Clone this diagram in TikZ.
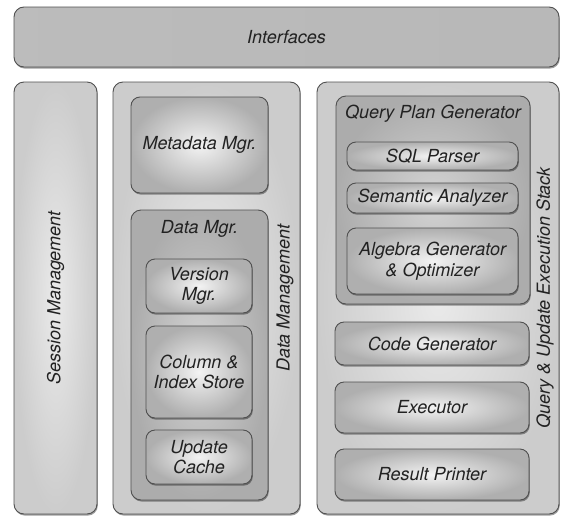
\documentclass[tikz,border=0pt]{standalone}
\usepackage{fontspec}
\setmainfont{TeX Gyre Heros}
\usetikzlibrary{shadows}
\definecolor{edge}{HTML}{505050}
\definecolor{txt}{HTML}{222222}
\definecolor{outin}{HTML}{EAEAEA}
\definecolor{outout}{HTML}{CCCCCC}
\definecolor{conin}{HTML}{D4D4D4}
\definecolor{conout}{HTML}{ACACAC}
\definecolor{leafin}{HTML}{F3F3F3}
\definecolor{leafout}{HTML}{AFAFAF}
\tikzset{
  base/.style={draw=edge, line width=0.9pt, inner sep=0pt, outer sep=0pt,
    drop shadow={shadow xshift=0.8pt, shadow yshift=-1.6pt, fill=black, opacity=0.38}},
  outerbox/.style={base, rounded corners=10pt, shading=radial, inner color=outin, outer color=outout},
  conbox/.style={base, rounded corners=10pt, shading=radial, inner color=conin, outer color=conout},
  leafbox/.style={base, rounded corners=9pt, shading=radial, inner color=leafin, outer color=leafout},
  ifbox/.style={base, rounded corners=10pt, shading=axis, left color=outout!92!black, middle color=leafin, right color=outout!90!black, shading angle=90},
  lbl/.style={text=txt, font=\fontsize{18}{20.5}\selectfont\itshape, align=center, inner sep=0pt},
}
\begin{document}
\begin{tikzpicture}[x=1pt,y=-1pt]
\useasboundingbox (0,0) rectangle (562,517);
% top
\node[ifbox, minimum width=545, minimum height=60] (if) at (286.5,37) {};
\node[lbl] (iflbl) at (if.center) {Interfaces};
% outer columns
\node[outerbox, minimum width=83, minimum height=432] (sess) at (55.5,298) {};
\node[lbl, rotate=90] (sesslbl) at (55.5,298) {Session Management};
\node[outerbox, minimum width=187, minimum height=432] (dm) at (206.5,298) {};
\node[lbl, rotate=90] (dmlbl) at (285,298) {Data Management};
\node[outerbox, minimum width=242, minimum height=432] (qs) at (438,298) {};
\node[lbl, rotate=90] (qslbl) at (545,298) {Query \& Update Execution Stack};
% data management
\node[leafbox, minimum width=137, minimum height=96] (meta) at (199.5,145) {};
\node[lbl] (metalbl) at (meta.center) {Metadata Mgr.};
\node[conbox, minimum width=137, minimum height=290] (dmgr) at (199.5,355) {};
\node[lbl] (dmgrlbl) at (199.5,229) {Data Mgr.};
\node[leafbox, minimum width=106, minimum height=54] (ver) at (199,286) {};
\node[lbl] (verlbl) at (ver.center) {Version\\Mgr.};
\node[leafbox, minimum width=106, minimum height=92] (col) at (199,372) {};
\node[lbl] (collbl) at (col.center) {Column \&\\Index Store};
\node[leafbox, minimum width=106, minimum height=54] (upd) at (199,457) {};
\node[lbl] (updlbl) at (upd.center) {Update\\Cache};
% query stack
\node[conbox, minimum width=194, minimum height=208] (qpg) at (433,200) {};
\node[lbl] (qpglbl) at (433,114) {Query Plan Generator};
\node[leafbox, minimum width=171, minimum height=28] (sql) at (432.5,156) {};
\node[lbl] (sqllbl) at (sql.center) {SQL Parser};
\node[leafbox, minimum width=171, minimum height=30] (sem) at (432.5,198) {};
\node[lbl] (semlbl) at (sem.center) {Semantic Analyzer};
\node[leafbox, minimum width=171, minimum height=66] (alg) at (432.5,261) {};
\node[lbl] (alglbl) at (alg.center) {Algebra Generator\\\& Optimizer};
\node[leafbox, minimum width=194, minimum height=43] (cg) at (432,343.5) {};
\node[lbl] (cglbl) at (cg.center) {Code Generator};
\node[leafbox, minimum width=194, minimum height=51] (ex) at (432,407.5) {};
\node[lbl] (exlbl) at (ex.center) {Executor};
\node[leafbox, minimum width=194, minimum height=51] (rp) at (432,474.5) {};
\node[lbl] (rplbl) at (rp.center) {Result Printer};
\end{tikzpicture}
\end{document}
